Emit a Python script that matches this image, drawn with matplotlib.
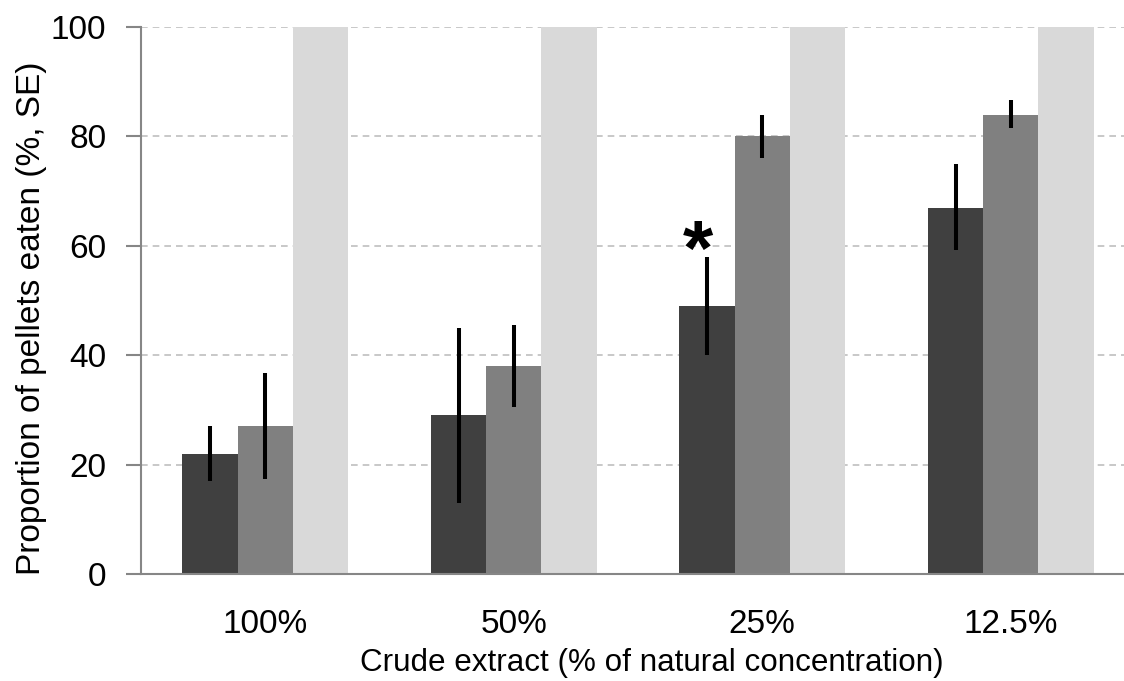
import numpy as np
import matplotlib.pyplot as plt

# Data
categories = ['100%', '50%', '25%', '12.5%']
dark_vals = [22, 29, 49, 67]
dark_lo = [17, 13, 40, 59.3]
dark_hi = [27, 45, 58, 75]
mid_vals = [27, 38, 80, 84]
mid_lo = [17.3, 30.6, 76, 81.5]
mid_hi = [36.8, 45.5, 84, 86.6]
light_vals = [100, 100, 100, 100]

plt.rcParams['font.family'] = ['Liberation Sans', 'DejaVu Sans']

fig = plt.figure(figsize=(11.24, 6.81), dpi=100)
ax = fig.add_axes([141 / 1124, 107 / 681, 994 / 1124, 547 / 681])

x = np.arange(len(categories))
w = 0.222

ax.bar(x - w, dark_vals, w, color='#404040', zorder=2)
ax.bar(x, mid_vals, w, color='#808080', zorder=2)
ax.bar(x + w, light_vals, w, color='#d9d9d9', zorder=2)

ax.vlines(x - w, dark_lo, dark_hi, color='black', lw=2.9, zorder=3)
ax.vlines(x, mid_lo, mid_hi, color='black', lw=2.9, zorder=3)

# significance marker
ax.text(x[2] - w - 0.036, 58.5, '*', ha='center', va='center', fontsize=56,
        fontweight='bold', zorder=4)

ax.set_xlim(-0.5, 3.5)
ax.set_ylim(0, 100)
ax.set_yticks([0, 20, 40, 60, 80, 100])
ax.set_xticks(x)
ax.set_xticklabels(categories)
ax.tick_params(axis='x', length=0, labelsize=24, pad=25.5)
ax.tick_params(axis='y', length=11, width=1.5, color='#868686', labelsize=24, pad=14)

ax.yaxis.grid(True, linestyle=(0, (4, 3)), color='#bfbfbf', lw=1.2, zorder=0)
ax.set_axisbelow(True)

for s in ['top', 'right']:
    ax.spines[s].set_visible(False)
for s in ['left', 'bottom']:
    ax.spines[s].set_color('#868686')
    ax.spines[s].set_linewidth(1.5)

ax.set_ylabel('Proportion of pellets eaten (%, SE)', fontsize=24, labelpad=2.5, y=0.468)
ax.set_xlabel('Crude extract (% of natural concentration)', fontsize=22.6, labelpad=5.5, x=0.514)

fig.savefig('out.png', dpi=100)
